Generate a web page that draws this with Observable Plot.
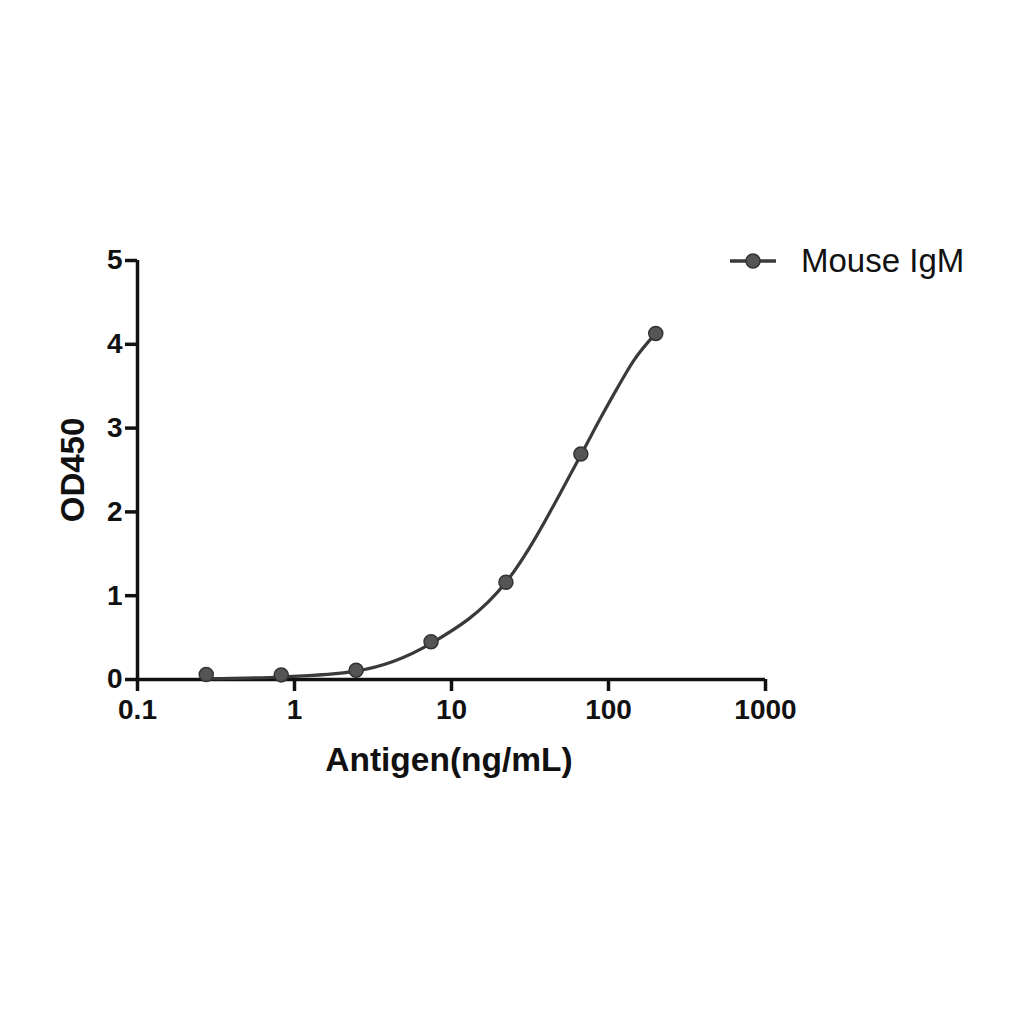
<!DOCTYPE html>
<html>
<head>
<meta charset="utf-8">
<script src="https://cdn.jsdelivr.net/npm/d3@7"></script>
<script src="https://cdn.jsdelivr.net/npm/@observablehq/plot@0.6"></script>
<style>
  html, body { margin: 0; padding: 0; background: #fff; }
  #wrap { position: relative; width: 1024px; height: 1024px; font-family: "Liberation Sans", Arial, sans-serif; }
  #legend { position: absolute; left: 728px; top: 241px; display: flex; align-items: center; }
  #legend span { font-size: 33px; color: #111; margin-left: 23px; }
</style>
</head>
<body>
<div id="wrap">
  <div id="chart"></div>
  <div id="legend">
    <svg width="50" height="40"><line x1="2" y1="20" x2="48" y2="20" stroke="#3a3a3a" stroke-width="3.5"/><circle cx="25" cy="20" r="7" fill="#555" stroke="#333" stroke-width="1.5"/></svg>
    <span>Mouse IgM</span>
  </div>
</div>
<script>
// Data: measured points
const concentration = [200, 66.67, 22.22, 7.407, 2.469, 0.823, 0.274];
const od450 = [4.13, 2.69, 1.16, 0.45, 0.11, 0.055, 0.06];
// fitted curve, values
const fitConc = [0.274, 0.823, 2.469, 7.407, 22.22, 66.67, 89, 114, 144, 200];
const fitOD   = [0.01, 0.03, 0.10, 0.43, 1.16, 2.68, 3.12, 3.48, 3.80, 4.13];
const xTicks = [0.1, 1, 10, 100, 1000];
const xTickLabels = ["0.1", "1", "10", "100", "1000"];
const yTicks = [0, 1, 2, 3, 4, 5];
const seriesName = "Mouse IgM";

const points = concentration.map((c, i) => ({c, od: od450[i]}));
const fit = fitConc.map((c, i) => ({c, od: fitOD[i]}));

const axisColor = "#111";
const chart = Plot.plot({
  width: 1024,
  height: 1024,
  marginLeft: 137,
  marginRight: 259,
  marginTop: 260,
  marginBottom: 345,
  style: {fontFamily: "'Liberation Sans', Arial, sans-serif", background: "#fff"},
  x: {type: "log", domain: [0.1, 1000]},
  y: {domain: [0, 5]},
  marks: [
    Plot.axisY({ticks: yTicks, tickSize: 12, tickPadding: 3, tickFormat: d => String(d),
      fontSize: 28, fontWeight: "bold", strokeWidth: 3.5, stroke: axisColor, color: axisColor, label: null}),
    Plot.axisX({ticks: xTicks, tickSize: 12, tickPadding: 8, tickFormat: d => xTickLabels[xTicks.indexOf(d)],
      fontSize: 28, fontWeight: "bold", strokeWidth: 3.5, stroke: axisColor, color: axisColor, label: null}),
    Plot.ruleX([0.1], {stroke: axisColor, strokeWidth: 3.5}),
    Plot.ruleY([0], {stroke: axisColor, strokeWidth: 3.5}),
    Plot.line(fit, {x: "c", y: "od", curve: "monotone-x", stroke: "#3a3a3a", strokeWidth: 3.2}),
    Plot.dot(points, {x: "c", y: "od", r: 7, fill: "#555", stroke: "#333", strokeWidth: 1.5})
  ]
});
// axis titles
const svg = d3.select(chart);
svg.append("text").attr("x", 449).attr("y", 771).attr("text-anchor", "middle")
  .attr("font-size", 33.5).attr("font-weight", "bold").attr("fill", "#111").text("Antigen(ng/mL)");
svg.append("text").attr("transform", "translate(84,470) rotate(-90)").attr("text-anchor", "middle")
  .attr("font-size", 33).attr("font-weight", "bold").attr("fill", "#111").text("OD450");
document.getElementById("chart").appendChild(chart);
document.querySelector("#legend span").textContent = seriesName;
</script>
</body>
</html>
